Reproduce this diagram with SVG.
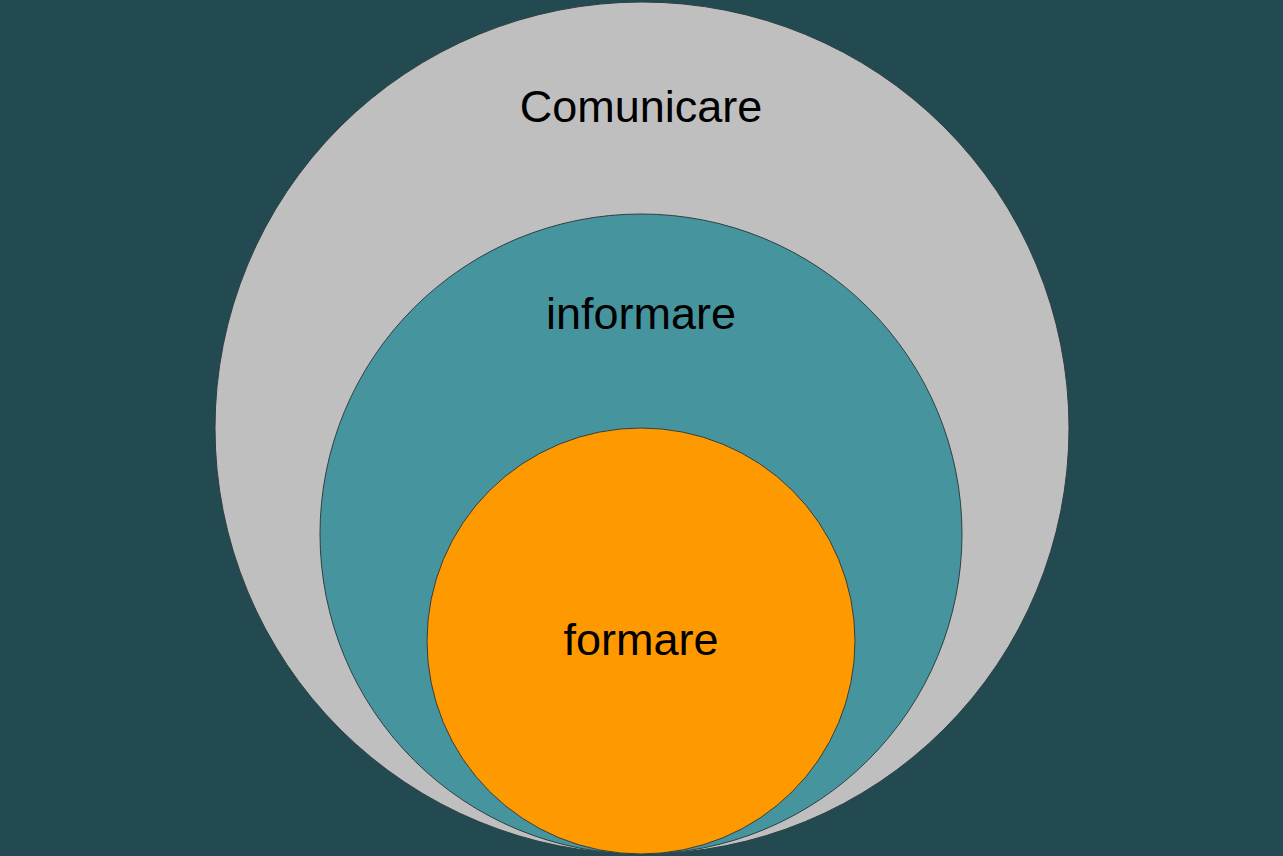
<svg xmlns="http://www.w3.org/2000/svg" width="1283" height="856" viewBox="0 0 1283 856">
  <style>
    .ring { stroke: #2f3f42; stroke-width: 1; }
    .label { font-family: "Liberation Sans", Arial, sans-serif; font-size: 45px; fill: #000000; text-anchor: middle; }
  </style>
  <!-- background -->
  <rect x="0" y="0" width="1283" height="856" fill="#224A50"/>
  <!-- nested circles, outermost first -->
  <g id="comunicare">
    <ellipse class="ring" cx="642" cy="428" rx="427" ry="426" fill="#BFBFBF"/>
    <text class="label" x="641" y="122">Comunicare</text>
  </g>
  <g id="informare">
    <ellipse class="ring" cx="641" cy="534" rx="321" ry="320" fill="#46959E"/>
    <text class="label" x="641" y="329">informare</text>
  </g>
  <g id="formare">
    <ellipse class="ring" cx="641" cy="641" rx="214" ry="213" fill="#FF9900"/>
    <text class="label" x="641" y="655">formare</text>
  </g>
  <g id="connectors"/>
</svg>
